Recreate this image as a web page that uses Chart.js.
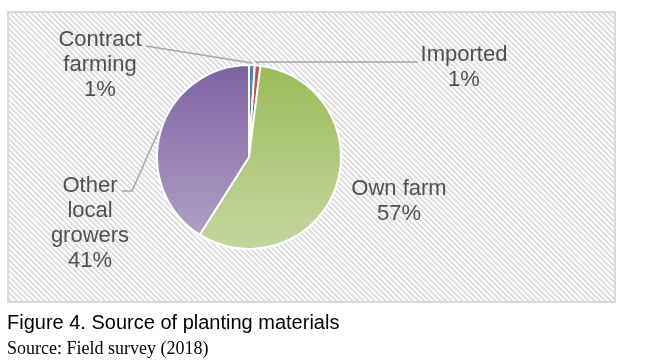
<!DOCTYPE html>
<html>
<head>
<meta charset="utf-8">
<script src="https://cdn.jsdelivr.net/npm/chart.js@4/dist/chart.umd.min.js"></script>
<style>
  html, body { margin: 0; padding: 0; background: #ffffff; }
  #wrap { position: relative; width: 663px; height: 364px; overflow: hidden; }
  #c { position: absolute; left: 0; top: 0; }
  .cap { position: absolute; white-space: nowrap; color: #000; }
  #title { left: 7px; top: 311px; font: 20px "Liberation Sans", Arial, sans-serif; }
  #source { left: 7px; top: 338px; font: 18px "Liberation Serif", "Times New Roman", serif; }
</style>
</head>
<body>
<div id="wrap">
  <canvas id="c" width="663" height="364"></canvas>
  <div id="title" class="cap">Figure 4. Source of planting materials</div>
  <div id="source" class="cap">Source: Field survey (2018)</div>
</div>
<script>
// ---- data ----
const categories = ["Contract farming", "Imported", "Own farm", "Other local growers"];
const labelLines = [["Contract", "farming"], ["Imported"], ["Own farm"], ["Other", "local", "growers"]];
const shares = [1, 1, 57, 41];

// ---- styles ----
const solidColors = ["#4f81bd", "#c0504d", null, null];
const gradientStops = [null, null, ["#9bbb59", "#c4d79f"], ["#7e62a1", "#b4a4c9"]];
// label placement relative to pie centre (first line centre), leader bend/end points
const labelPos = [
  { dx: -149, dy: -117, leader: [[-103, -111]] },
  { dx: 215, dy: -102, leader: [[7, -95], [169, -95]] },
  { dx: 150, dy: 32, leader: null },
  { dx: -159, dy: 29, leader: [[-117, 34], [-127, 34]] }
];

function sliceFill(ctx) {
  const i = ctx.dataIndex;
  if (solidColors[i]) return solidColors[i];
  const chart = ctx.chart;
  const a = chart.chartArea;
  if (!a) return gradientStops[i][0];
  const g = chart.ctx.createLinearGradient(0, a.top, 0, a.bottom);
  g.addColorStop(0, gradientStops[i][0]);
  g.addColorStop(1, gradientStops[i][1]);
  return g;
}

const bgPlugin = {
  id: 'hatchBg',
  beforeDraw(chart) {
    const ctx = chart.ctx;
    const x0 = 7, y0 = 11, x1 = 616, y1 = 303;
    ctx.save();
    ctx.fillStyle = '#ffffff';
    ctx.fillRect(x0, y0, x1 - x0, y1 - y0);
    ctx.beginPath();
    ctx.rect(x0, y0, x1 - x0, y1 - y0);
    ctx.clip();
    ctx.strokeStyle = '#dcdcdc';
    ctx.lineWidth = 1.8;
    const H = y1 - y0;
    for (let k = -H - 10; k < (x1 - x0) + 10; k += 5.5) {
      ctx.beginPath();
      ctx.moveTo(x0 + k, y0);
      ctx.lineTo(x0 + k + H, y1);
      ctx.stroke();
    }
    ctx.restore();
    ctx.save();
    ctx.strokeStyle = '#d9d9d9';
    ctx.lineWidth = 2;
    ctx.strokeRect(x0 + 1, y0 + 1, x1 - x0 - 2, y1 - y0 - 2);
    ctx.restore();
  }
};

const labelPlugin = {
  id: 'pieLabels',
  afterDatasetsDraw(chart) {
    const ctx = chart.ctx;
    const meta = chart.getDatasetMeta(0);
    const data = chart.data.datasets[0].data;
    const total = data.reduce((s, v) => s + v, 0);
    ctx.save();
    meta.data.forEach((arc, i) => {
      const p = arc.getProps(['x', 'y', 'startAngle', 'endAngle', 'outerRadius'], true);
      const cx = p.x, cy = p.y;
      const mid = (p.startAngle + p.endAngle) / 2;
      const L = labelPos[i];
      if (L.leader) {
        ctx.strokeStyle = '#a6a6a6';
        ctx.lineWidth = 1.5;
        ctx.beginPath();
        ctx.moveTo(cx + Math.cos(mid) * (p.outerRadius + 2), cy + Math.sin(mid) * (p.outerRadius + 2));
        L.leader.forEach(pt => ctx.lineTo(cx + pt[0], cy + pt[1]));
        ctx.stroke();
      }
      const lines = labelLines[i].concat([Math.round(data[i] / total * 100) + '%']);
      ctx.fillStyle = '#505050';
      ctx.font = '22px "Liberation Sans", Arial, sans-serif';
      ctx.textAlign = 'center';
      ctx.textBaseline = 'middle';
      lines.forEach((t, j) => {
        ctx.fillText(t, cx + L.dx, cy + L.dy + j * 25);
      });
    });
    ctx.restore();
  }
};

new Chart(document.getElementById('c'), {
  type: 'pie',
  data: {
    labels: categories,
    datasets: [{
      data: shares,
      backgroundColor: sliceFill,
      borderColor: '#ffffff',
      borderWidth: 2
    }]
  },
  options: {
    responsive: false,
    animation: false,
    devicePixelRatio: 1,
    layout: { padding: { left: 156, right: 321, top: 64, bottom: 114 } },
    plugins: { legend: { display: false }, tooltip: { enabled: false } }
  },
  plugins: [bgPlugin, labelPlugin]
});
</script>
</body>
</html>
